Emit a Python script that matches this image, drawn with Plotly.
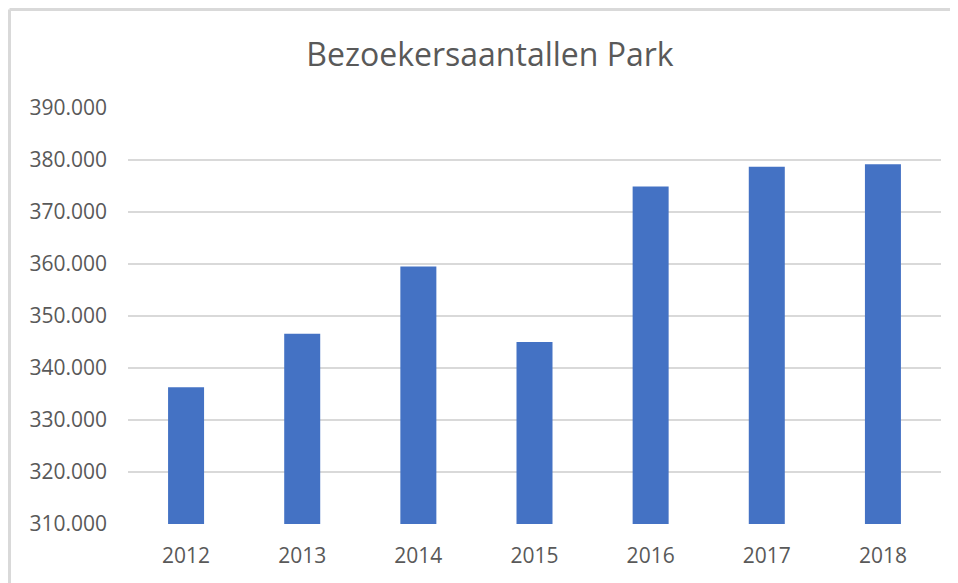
import plotly.graph_objects as go

years = ["2012", "2013", "2014", "2015", "2016", "2017", "2018"]
visitors = [336300, 346600, 359500, 345000, 374900, 378700, 379200]
tick_values = [310000, 320000, 330000, 340000, 350000, 360000, 370000, 380000, 390000]
tick_labels = ["310.000", "320.000", "330.000", "340.000", "350.000", "360.000", "370.000", "380.000", "390.000"]
title_text = "Bezoekersaantallen Park"

fig = go.Figure(
    go.Bar(x=years, y=visitors, marker=dict(color="#4472C4", line=dict(width=0)), hoverinfo="x+y")
)

# page body has an 8px margin, so the figure is drawn at (8, 8)
W, H = 950, 575
L, R, T, B = 120, 17, 100, 59
pw, ph = W - L - R, H - T - B

# outer chart border (light gray), extending past right/bottom edges like the reference
x0 = (1.5 - L) / pw
y1 = (H - B - 1.5) / ph
fig.add_shape(type="line", xref="paper", yref="paper", x0=x0, x1=(W + 20 - L) / pw, y0=y1, y1=y1,
              line=dict(color="#d9d9d9", width=3))
fig.add_shape(type="line", xref="paper", yref="paper", x0=x0, x1=x0, y0=y1, y1=-(B + 20) / ph,
              line=dict(color="#d9d9d9", width=3))

fig.update_layout(
    width=W, height=H,
    margin=dict(l=L, r=R, t=T, b=B, pad=0),
    paper_bgcolor="white", plot_bgcolor="white",
    title=dict(text=title_text, x=(490 - 8) / W, xref="container", xanchor="center",
               y=1 - 47 / H, yref="container", yanchor="middle",
               font=dict(family="Open Sans", size=32, color="#595959")),
    bargap=0.69,
    showlegend=False,
    font=dict(family="Open Sans", color="#595959"),
)
fig.update_xaxes(
    type="category", showgrid=False, zeroline=False, showline=False, ticks="",
    tickfont=dict(family="Open Sans", size=21, color="#595959"),
    ticklabelstandoff=17,
)
fig.update_yaxes(
    range=[310000, 390000], tickvals=tick_values, ticktext=tick_labels,
    showgrid=True, gridcolor="#d9d9d9", gridwidth=2, zeroline=False, showline=False, ticks="",
    tickfont=dict(family="Open Sans", size=21, color="#595959"),
    ticklabelstandoff=20,
)

fig.write_html("out.html")
